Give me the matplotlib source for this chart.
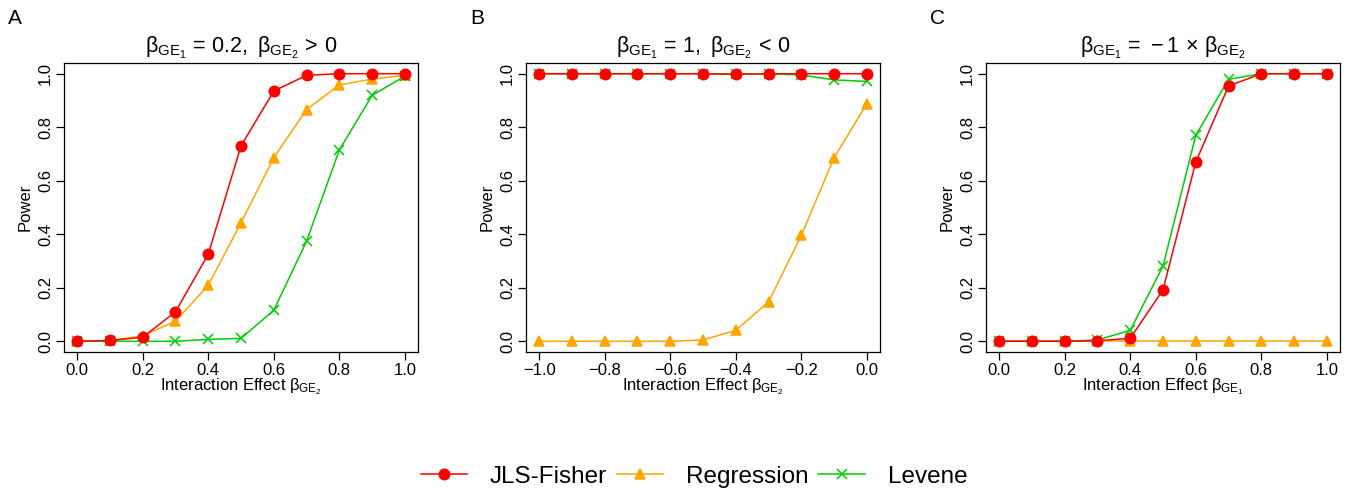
import numpy as np
import matplotlib
matplotlib.use('Agg')
from matplotlib import pyplot as plt
from matplotlib.lines import Line2D

plt.rcParams['font.family'] = ['Liberation Sans', 'DejaVu Sans']
plt.rcParams['mathtext.fontset'] = 'custom'
plt.rcParams['mathtext.rm'] = 'Liberation Sans'
plt.rcParams['mathtext.it'] = 'Liberation Sans'
plt.rcParams['mathtext.bf'] = 'Liberation Sans:bold'

# panel A: beta_GE1 = 0.2, beta_GE2 > 0
x_a = [0.0, 0.1, 0.2, 0.3, 0.4, 0.5, 0.6, 0.7, 0.8, 0.9, 1.0]
jls_a = [0.0, 0.003, 0.015, 0.11, 0.325, 0.73, 0.935, 0.994, 1.0, 1.0, 1.0]
reg_a = [0.0, 0.003, 0.02, 0.075, 0.209, 0.443, 0.686, 0.866, 0.958, 0.98, 0.994]
lev_a = [0.0, 0.0, 0.0, 0.0, 0.007, 0.011, 0.116, 0.374, 0.715, 0.919, 0.991]

# panel B: beta_GE1 = 1, beta_GE2 < 0
x_b = [-1.0, -0.9, -0.8, -0.7, -0.6, -0.5, -0.4, -0.3, -0.2, -0.1, 0.0]
jls_b = [1.0, 1.0, 1.0, 1.0, 1.0, 1.0, 0.998, 1.0, 1.0, 1.0, 1.0]
reg_b = [0.0, 0.0, 0.0, 0.0, 0.0, 0.005, 0.041, 0.147, 0.396, 0.686, 0.888]
lev_b = [1.0, 1.0, 1.0, 1.0, 1.0, 1.0, 0.998, 1.0, 0.995, 0.977, 0.971]

# panel C: beta_GE1 = -1 x beta_GE2
x_c = [0.0, 0.1, 0.2, 0.3, 0.4, 0.5, 0.6, 0.7, 0.8, 0.9, 1.0]
jls_c = [0.0, 0.0, 0.0, 0.002, 0.011, 0.192, 0.67, 0.954, 1.0, 1.0, 1.0]
reg_c = [0.0, 0.0, 0.0, 0.0, 0.0, 0.0, 0.0, 0.0, 0.0, 0.0, 0.0]
lev_c = [0.0, 0.0, 0.0, 0.005, 0.041, 0.281, 0.77, 0.979, 1.0, 1.0, 1.0]

methods = ['JLS-Fisher', 'Regression', 'Levene']
colors = ['#FF0000', '#FFA500', '#00CD00']
markers = ['o', '^', 'x']
msizes = [7.5, 7.5, 7]

panels = [
    ('A', r'$\beta_{\mathrm{GE}_1}\,=\,0.2,\ \beta_{\mathrm{GE}_2}\,>\,0$',
     r'Interaction Effect $\beta_{\mathrm{GE}_2}$', x_a, [jls_a, reg_a, lev_a]),
    ('B', r'$\beta_{\mathrm{GE}_1}\,=\,1,\ \beta_{\mathrm{GE}_2}\,<\,0$',
     r'Interaction Effect $\beta_{\mathrm{GE}_2}$', x_b, [jls_b, reg_b, lev_b]),
    ('C', r'$\beta_{\mathrm{GE}_1}\,=\,-1\,\times\,\beta_{\mathrm{GE}_2}$',
     r'Interaction Effect $\beta_{\mathrm{GE}_1}$', x_c, [jls_c, reg_c, lev_c]),
]
lefts = [64, 526, 986]


def fmt(v):
    s = '%.1f' % abs(v)
    return '\u2212' + s if v < -1e-9 else s


fig = plt.figure(figsize=(13.5, 4.94), dpi=100)
for (letter, title, xlab, xs, ys), left in zip(panels, lefts):
    ax = fig.add_axes([left / 1350, 1 - 352 / 494, 354 / 1350, 289 / 494])
    # draw order: regression, levene, jls on top
    for i in [1, 2, 0]:
        ax.plot(xs, ys[i], color=colors[i], marker=markers[i], ms=msizes[i],
                lw=1.1, mew=1.1, clip_on=False)
    lo, hi = min(xs), max(xs)
    pad = (hi - lo) * 0.04
    ticks = np.linspace(lo, hi, 6)
    ax.set_xlim(lo - pad, hi + pad)
    ax.set_ylim(-0.04, 1.04)
    ax.set_xticks(ticks)
    ax.set_xticklabels([fmt(v) for v in ticks])
    ax.set_yticks([0, 0.2, 0.4, 0.6, 0.8, 1.0])
    ax.set_yticklabels(['0.0', '0.2', '0.4', '0.6', '0.8', '1.0'], rotation=90, va='center')
    ax.tick_params(direction='out', length=6, width=0.9, labelsize=12, pad=2)
    for s in ax.spines.values():
        s.set_linewidth(0.9)
    ax.set_xlabel(xlab, fontsize=12, labelpad=-1)
    ax.set_ylabel('Power', fontsize=12, labelpad=4)
    ax.set_title(title, fontsize=15.5, pad=7)
    fig.text((left - 56) / 1350, 1 - 18 / 494, letter, fontsize=15, va='center', ha='left')

handles = [Line2D([], [], color=c, marker=m, ms=s, lw=1.1, mew=1.1)
           for c, m, s in zip(colors, markers, msizes)]
fig.legend(handles, methods, loc='center', bbox_to_anchor=(694 / 1350, 1 - 477 / 494),
           ncol=3, frameon=False, fontsize=17.5, handlelength=1.9, handletextpad=0.95,
           columnspacing=0.4)

fig.savefig('out.png', dpi=100)
